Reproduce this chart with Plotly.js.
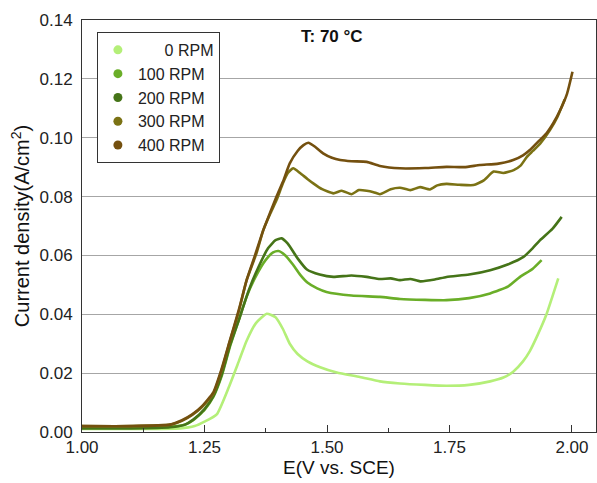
<!DOCTYPE html>
<html>
<head>
<meta charset="utf-8">
<script src="https://cdn.plot.ly/plotly-3.0.1.min.js"></script>
<style>html,body{margin:0;padding:0;background:#fff;}#chart{width:597px;height:483px;}</style>
</head>
<body>
<div id="chart"></div>
<script>
const seriesNames = ["0 RPM", "100 RPM", "200 RPM", "300 RPM", "400 RPM"];
const legendLabels = ["\u00A0\u00A0\u00A0\u00A0\u00A0\u00A00 RPM", "100 RPM", "200 RPM", "300 RPM", "400 RPM"];
const seriesColors = ["#b4ef78", "#6aae28", "#457418", "#7b7214", "#74500f"];

const e0 = [1.00, 1.10, 1.20, 1.23, 1.25, 1.275, 1.30, 1.32, 1.336, 1.355, 1.377, 1.395, 1.41, 1.424, 1.44, 1.46, 1.486, 1.52, 1.567, 1.608, 1.649, 1.70, 1.744, 1.79, 1.833, 1.86, 1.88, 1.90, 1.914, 1.93, 1.948, 1.96, 1.972];
const j0 = [0.0010, 0.0010, 0.0012, 0.0020, 0.0035, 0.0060, 0.0154, 0.0240, 0.0310, 0.0370, 0.0402, 0.0390, 0.0350, 0.0300, 0.0265, 0.0240, 0.0220, 0.0202, 0.0187, 0.0172, 0.0165, 0.0160, 0.0157, 0.0160, 0.0172, 0.0185, 0.0205, 0.0240, 0.0275, 0.0330, 0.0400, 0.0460, 0.0522];

const e100 = [1.00, 1.10, 1.18, 1.21, 1.227, 1.25, 1.268, 1.285, 1.302, 1.32, 1.336, 1.355, 1.375, 1.39, 1.401, 1.415, 1.43, 1.445, 1.46, 1.48, 1.499, 1.55, 1.608, 1.649, 1.70, 1.744, 1.79, 1.833, 1.87, 1.894, 1.92, 1.938];
const j100 = [0.0015, 0.0015, 0.0018, 0.0025, 0.0040, 0.0075, 0.0119, 0.0190, 0.0290, 0.0380, 0.0460, 0.0530, 0.0585, 0.0610, 0.0615, 0.0600, 0.0570, 0.0535, 0.0508, 0.0488, 0.0476, 0.0464, 0.0459, 0.0452, 0.0449, 0.0448, 0.0455, 0.0471, 0.0495, 0.0527, 0.0555, 0.0584];

const e200 = [1.00, 1.10, 1.18, 1.21, 1.227, 1.25, 1.268, 1.285, 1.302, 1.322, 1.34, 1.36, 1.38, 1.395, 1.4075, 1.42, 1.44, 1.459, 1.485, 1.513, 1.55, 1.581, 1.608, 1.63, 1.649, 1.67, 1.690, 1.72, 1.744, 1.79, 1.833, 1.87, 1.901, 1.92, 1.935, 1.96, 1.979];
const j200 = [0.0012, 0.0012, 0.0016, 0.0025, 0.0042, 0.0078, 0.0122, 0.0195, 0.0295, 0.0390, 0.0480, 0.0560, 0.0625, 0.0652, 0.0658, 0.0640, 0.0590, 0.0552, 0.0535, 0.0527, 0.0532, 0.0527, 0.0520, 0.0522, 0.0516, 0.0520, 0.0512, 0.0518, 0.0527, 0.0535, 0.0550, 0.0570, 0.0595, 0.0625, 0.0652, 0.0690, 0.0731];

const e300 = [1.00, 1.10, 1.18, 1.204, 1.225, 1.245, 1.268, 1.285, 1.302, 1.32, 1.336, 1.356, 1.37, 1.385, 1.397, 1.41, 1.42, 1.431, 1.445, 1.46, 1.472, 1.49, 1.513, 1.53, 1.55, 1.565, 1.581, 1.595, 1.608, 1.63, 1.649, 1.67, 1.690, 1.71, 1.725, 1.744, 1.77, 1.799, 1.82, 1.84, 1.86, 1.881, 1.895, 1.908, 1.92, 1.935, 1.955, 1.97, 1.985];
const j300 = [0.0020, 0.0020, 0.0025, 0.0038, 0.0058, 0.0085, 0.0130, 0.0210, 0.0310, 0.0410, 0.0516, 0.0607, 0.0686, 0.0745, 0.0788, 0.0845, 0.0880, 0.0896, 0.0880, 0.0860, 0.0845, 0.0825, 0.0811, 0.0820, 0.0808, 0.0822, 0.0820, 0.0815, 0.0808, 0.0825, 0.0830, 0.0822, 0.0832, 0.0824, 0.0838, 0.0843, 0.0840, 0.0839, 0.0855, 0.0885, 0.0880, 0.0890, 0.0905, 0.0935, 0.0955, 0.0980, 0.1026, 0.1070, 0.1130];

const e400 = [1.00, 1.10, 1.18, 1.204, 1.225, 1.245, 1.268, 1.285, 1.302, 1.32, 1.336, 1.353, 1.370, 1.385, 1.397, 1.41, 1.424, 1.44, 1.452, 1.462, 1.475, 1.492, 1.51, 1.527, 1.55, 1.581, 1.608, 1.649, 1.70, 1.744, 1.78, 1.812, 1.85, 1.880, 1.90, 1.914, 1.93, 1.948, 1.962, 1.976, 1.99, 2.001];
const j400 = [0.0020, 0.0020, 0.0025, 0.0040, 0.0060, 0.0088, 0.0135, 0.0215, 0.0312, 0.0415, 0.0516, 0.0600, 0.0686, 0.0750, 0.0800, 0.0850, 0.0913, 0.0955, 0.0975, 0.0983, 0.0970, 0.0947, 0.0932, 0.0924, 0.0920, 0.0918, 0.0904, 0.0896, 0.0897, 0.0901, 0.0900, 0.0907, 0.0912, 0.0924, 0.0940, 0.0958, 0.0985, 0.1015, 0.1050, 0.1094, 0.1150, 0.1224];

const xTickVals = [1.00, 1.25, 1.50, 1.75, 2.00];
const xMinorVals = [1.125, 1.375, 1.625, 1.875];
const yTickVals = [0.00, 0.02, 0.04, 0.06, 0.08, 0.10, 0.12, 0.14];

const xs = [e0, e100, e200, e300, e400];
const ys = [j0, j100, j200, j300, j400];

const traces = [];
for (let i = 0; i < seriesNames.length; i++) {
  traces.push({
    x: xs[i], y: ys[i], type: "scatter", mode: "lines",
    name: seriesNames[i], showlegend: false,
    line: {color: seriesColors[i], width: 2.6, shape: "spline", smoothing: 0.5}
  });
}
for (let i = 0; i < seriesNames.length; i++) {
  traces.push({
    x: [null], y: [null], type: "scatter", mode: "markers",
    name: legendLabels[i], showlegend: true,
    marker: {color: seriesColors[i], size: 9, symbol: "circle"}
  });
}

const font = "Liberation Sans, Arial, sans-serif";
const layout = {
  width: 597, height: 483,
  margin: {l: 82, r: 1, t: 20, b: 51, pad: 0},
  paper_bgcolor: "#fff", plot_bgcolor: "#fff",
  font: {family: font, color: "#222", size: 17},
  showlegend: true,
  legend: {
    x: 0.029, y: 0.971, xanchor: "left", yanchor: "top",
    bgcolor: "#fff", bordercolor: "#333", borderwidth: 1,
    font: {family: font, size: 16, color: "#222"},
    tracegroupgap: 0, itemwidth: 30
  },
  xaxis: {
    range: [1.0, 2.049], tickvals: xTickVals, tickformat: ".2f",
    ticks: "inside", ticklen: 7, tickcolor: "#333",
    minor: {tickvals: xMinorVals, ticks: "inside", ticklen: 4, tickcolor: "#333"},
    showline: true, linecolor: "#333", linewidth: 1, mirror: true,
    showgrid: false, zeroline: false,
    tickfont: {family: font, size: 17, color: "#222"},
    title: {text: "E(V vs. SCE)", font: {family: font, size: 19, color: "#111"}, standoff: 4}
  },
  yaxis: {
    range: [0, 0.14], tickvals: yTickVals, tickformat: ".2f",
    ticks: "", showline: true, linecolor: "#333", linewidth: 1, mirror: true,
    showgrid: true, gridcolor: "#a6a6a6", gridwidth: 1, zeroline: false,
    ticklabelstandoff: 5,
    tickfont: {family: font, size: 17, color: "#222"},
    title: {text: "Current density(A/cm<sup>2</sup>)", font: {family: font, size: 20, color: "#111"}, standoff: 4}
  },
  annotations: [{
    x: 1.51, y: 0.1345, xref: "x", yref: "y", showarrow: false,
    text: "<b>T: 70 °C</b>", font: {family: font, size: 17, color: "#111"}
  }]
};

Plotly.newPlot("chart", traces, layout, {displayModeBar: false, staticPlot: true});
</script>
</body>
</html>
